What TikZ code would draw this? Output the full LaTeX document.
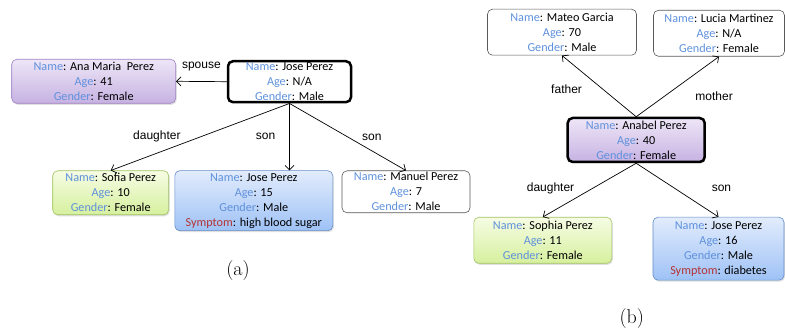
\documentclass[tikz,border=0pt]{standalone}
\usepackage{fontspec}
\usetikzlibrary{arrows.meta,shadows}
\newfontfamily\boxfont{Carlito}
\newfontfamily\labelfont{Liberation Sans}
\definecolor{keyblue}{RGB}{95,145,220}
\definecolor{symred}{RGB}{180,50,50}
\definecolor{purpleline}{RGB}{160,130,195}
\definecolor{greenline}{RGB}{160,195,95}
\definecolor{blueline}{RGB}{100,140,200}
\newcommand{\key}[1]{\textcolor{keyblue}{#1}:}
\newcommand{\sym}{\textcolor{symred}{Symptom}:}

\begin{document}
\begin{tikzpicture}[x=1pt,y=-1pt,
    person/.style={rectangle, rounded corners=5pt, draw=black!65, line width=0.6pt,
        align=center, inner sep=0pt, font=\boxfont\fontsize{12.2}{15}\selectfont},
    main/.style={draw=black, line width=2.5pt},
    purplebox/.style={draw=purpleline, top color={rgb,255:red,238;green,230;blue,247},
        bottom color={rgb,255:red,198;green,178;blue,226},
        drop shadow={opacity=.25, shadow xshift=1pt, shadow yshift=-1.5pt}},
    greenbox/.style={draw=greenline, top color={rgb,255:red,246;green,252;blue,228},
        bottom color={rgb,255:red,214;green,240;blue,158},
        drop shadow={opacity=.25, shadow xshift=1pt, shadow yshift=-1.5pt}},
    bluebox/.style={draw=blueline, top color={rgb,255:red,226;green,236;blue,252},
        bottom color={rgb,255:red,158;green,194;blue,246},
        drop shadow={opacity=.25, shadow xshift=1pt, shadow yshift=-1.5pt}},
    rel/.style={line width=0.7pt, -{Straight Barb[length=4.5pt,width=9pt]}},
    lbl/.style={font=\labelfont\fontsize{12}{14}\selectfont, inner sep=0pt},
    caption/.style={font=\fontsize{20}{22}\selectfont}]
    \useasboundingbox (0,0) rectangle (785,328);

    % (a)
    \node[person, purplebox, minimum width=164pt, minimum height=44pt] (ana) at (93.7,81.3)
        {\key{Name} Ana Maria\ \ Perez\\ \key{Age} 41\\ \key{Gender} Female};
    \node[person, main, minimum width=123pt, minimum height=41pt] (josea) at (289.5,81.7)
        {\key{Name} Jose Perez\\ \key{Age} N/A\\ \key{Gender} Male};
    \node[person, greenbox, minimum width=116pt, minimum height=44pt] (sofia) at (110.7,192.8)
        {\key{Name} Sofia Perez\\ \key{Age} 10\\ \key{Gender} Female};
    \node[person, bluebox, minimum width=158pt, minimum height=60pt] (josec) at (253.8,200.7)
        {\key{Name} Jose Perez\\ \key{Age} 15\\ \key{Gender} Male\\ \sym{} high blood sugar};
    \node[person, minimum width=128pt, minimum height=42pt] (manuel) at (406,191.8)
        {\key{Name} Manuel Perez\\ \key{Age} 7\\ \key{Gender} Male};
    \coordinate (josetop) at (josea.south |- josec.north);

    \draw[rel] (josea.west) -- node[lbl, yshift=15pt] (spouse) {spouse} (ana.east);
    \draw[rel] (josea.south) -- node[lbl, pos=.49, xshift=-45pt] (daughtera) {daughter} (sofia.north);
    \draw[rel] (josea.south) -- node[lbl, pos=.49, xshift=-24pt] (sona) {son} (josetop);
    \draw[rel] (josea.south) -- node[lbl, pos=.51, xshift=23pt] (sonb) {son} (manuel.north);
    \node[caption] (capa) at (238,270.7) {(a)};

    % (b)
    \node[person, minimum width=149pt, minimum height=46pt] (mateo) at (562,32.2)
        {\key{Name} Mateo Garcia\\ \key{Age} 70\\ \key{Gender} Male};
    \node[person, minimum width=131pt, minimum height=46pt] (lucia) at (719,33.3)
        {\key{Name} Lucia Martinez\\ \key{Age} N/A\\ \key{Gender} Female};
    \node[person, purplebox, main, minimum width=137pt, minimum height=44pt] (anabel) at (636.2,140)
        {\key{Name} Anabel Perez\\ \key{Age} 40\\ \key{Gender} Female};
    \node[person, greenbox, minimum width=138pt, minimum height=46pt] (sophia) at (542.8,240.3)
        {\key{Name} Sophia Perez\\ \key{Age} 11\\ \key{Gender} Female};
    \node[person, bluebox, minimum width=131pt, minimum height=63pt] (josed) at (718.5,248.7)
        {\key{Name} Jose Perez\\ \key{Age} 16\\ \key{Gender} Male\\ \sym{} diabetes};

    \draw[rel] (anabel.north) -- node[lbl, pos=.445, xshift=-36.6pt] (father) {father} (mateo.south);
    \draw[rel] (anabel.north) -- node[lbl, pos=.337, xshift=50pt] (mother) {mother} (lucia.south);
    \draw[rel] (anabel.south) -- node[lbl, pos=.46, xshift=-42.7pt] (daughterb) {daughter} (sophia.north);
    \draw[rel] (anabel.south) -- node[lbl, pos=.46, xshift=47.4pt] (sonc) {son} (josed.north);
    \node[caption] (capb) at (631.7,318.3) {(b)};
\end{tikzpicture}
\end{document}
